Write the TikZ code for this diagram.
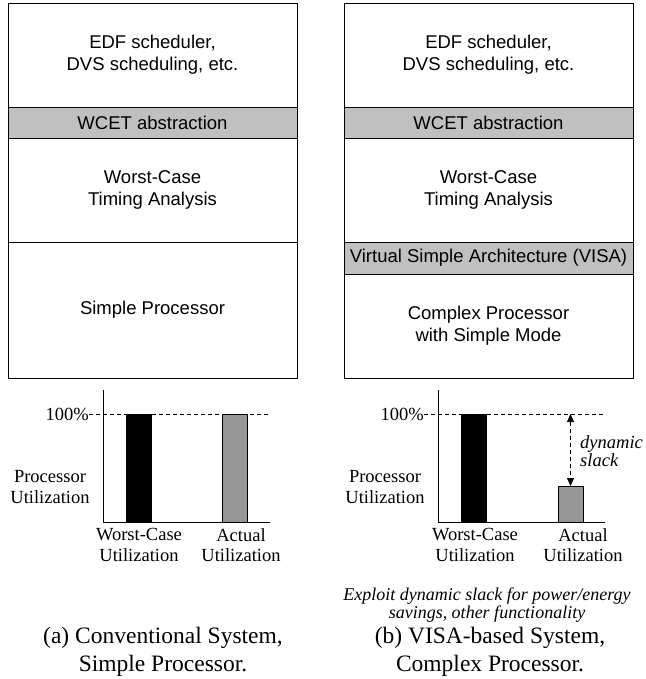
\documentclass[tikz,border=0pt]{standalone}
\usepackage{fontspec}
\setmainfont{Liberation Serif}
\newfontfamily\arialfont{Liberation Sans}
\usetikzlibrary{positioning,arrows.meta}
\definecolor{bandgray}{HTML}{C0C0C0}
\definecolor{bargray}{HTML}{969696}

\begin{document}
\begin{tikzpicture}[x=1pt,y=-1pt,
  layer/.style={draw, line width=0.8pt, minimum width=289pt, inner sep=0pt, outer sep=0pt, align=center, font=\arialfont\fontsize{18.5}{22}\selectfont},
  band/.style={layer, fill=bandgray, minimum height=31pt},
  serif/.style={font=\fontsize{18.5}{20.5}\selectfont, align=center, inner sep=0pt},
  captxt/.style={font=\fontsize{23.5}{28}\selectfont, align=center, inner sep=0pt},
  bar/.style={draw, line width=0.8pt, minimum width=25pt, inner sep=0pt, outer sep=0pt, anchor=south},
  axis/.style={line width=0.8pt},
  lim/.style={dash pattern=on 4pt off 3pt, line width=0.6pt}]
\useasboundingbox (0,0) rectangle (645,679);

% (a) conventional system
\node[layer, minimum height=104pt] (edfA) at (152.5,55) {EDF scheduler,\\ DVS scheduling, etc.};
\node[band, below=0pt of edfA] (wcetA) {WCET abstraction};
\node[layer, minimum height=104pt, below=0pt of wcetA] (wcaA) {Worst-Case\\ Timing Analysis};
\node[layer, minimum height=136pt, below=0pt of wcaA] (simpA) {Simple Processor};

\coordinate (topA) at (103,390);
\coordinate (oA) at (103,522);
\coordinate (endA) at (270,522);
\coordinate (limA) at (270,414);
\node[bar, fill=black, minimum height=108pt] (wcbA) at (138.5,522) {};
\node[bar, fill=bargray, minimum height=108pt] (acbA) at (235,522) {};
\draw[axis] (topA) -- (oA) -- (endA);
\node[serif, anchor=east] (pctA) at (89,414) {100\%};
\draw[lim] (pctA.east) -- (limA);
\node[serif] (puA) at (50,487) {Processor\\ Utilization};
\node[serif] (wclA) at (139,545) {Worst-Case\\ Utilization};
\node[serif] (aclA) at (241,545) {Actual\\ Utilization};
\node[captxt] (capA) at (163,652) {(a) Conventional System,\\ Simple Processor.};

% (b) VISA-based system
\node[layer, minimum height=104pt] (edfB) at (488.5,55) {EDF scheduler,\\ DVS scheduling, etc.};
\node[band, below=0pt of edfB] (wcetB) {WCET abstraction};
\node[layer, minimum height=104pt, below=0pt of wcetB] (wcaB) {Worst-Case\\ Timing Analysis};
\node[band, minimum height=32pt, below=0pt of wcaB] (visaB) {Virtual Simple Architecture (VISA)};
\node[layer, minimum height=104pt, below=0pt of visaB] (cpxB) {Complex Processor\\ with Simple Mode};

\coordinate (topB) at (438,390);
\coordinate (oB) at (438,522);
\coordinate (endB) at (605,522);
\coordinate (limB) at (605,414);
\coordinate (slkB) at (570.5,414);
\node[bar, fill=black, minimum height=108pt] (wcbB) at (473.5,522) {};
\node[bar, fill=bargray, minimum height=36pt] (acbB) at (570.5,522) {};
\draw[axis] (topB) -- (oB) -- (endB);
\node[serif, anchor=east] (pctB) at (424,414) {100\%};
\draw[lim] (pctB.east) -- (limB);
\draw[lim, {Triangle[length=8pt,width=7pt]}-{Triangle[length=8pt,width=7pt]}] (slkB) -- (acbB.north);
\node[serif, anchor=west, align=left, font=\itshape\fontsize{18.5}{18}\selectfont] (dynB) at (580,451) {dynamic\\ slack};
\node[serif] (puB) at (385,487) {Processor\\ Utilization};
\node[serif] (wclB) at (475,545) {Worst-Case\\ Utilization};
\node[serif] (aclB) at (583,545) {Actual\\ Utilization};
\node[serif, font=\itshape\fontsize{18}{16}\selectfont] (expB) at (487,605) {Exploit dynamic slack for power/energy\\ savings, other functionality};
\node[captxt] (capB) at (490,652) {(b) VISA-based System,\\ Complex Processor.};
\end{tikzpicture}
\end{document}
